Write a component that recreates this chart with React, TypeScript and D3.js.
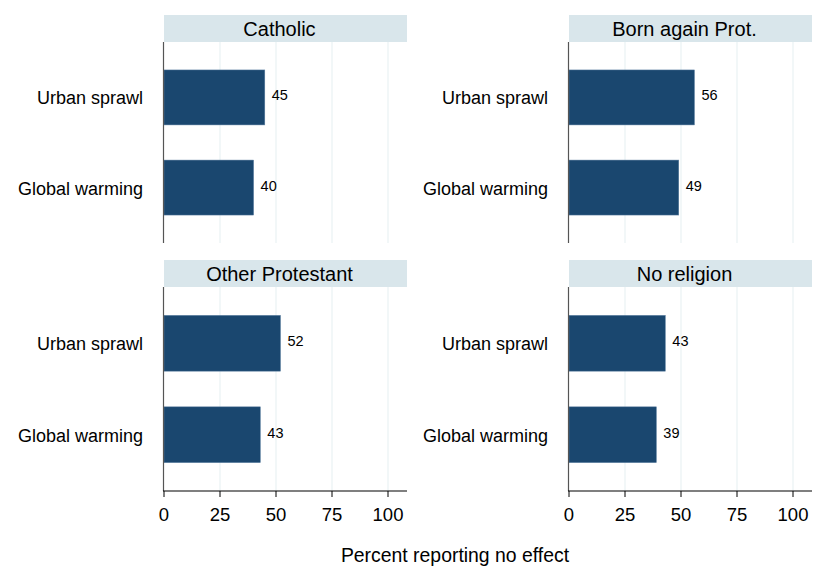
import React from "react";
import * as d3 from "d3";

const groups = ["Catholic", "Born again Prot.", "Other Protestant", "No religion"];
const categories = ["Urban sprawl", "Global warming"];
const urbanSprawl = [45, 56, 52, 43];
const globalWarming = [40, 49, 43, 39];
const xTicks = [0, 25, 50, 75, 100];
const xTitle = "Percent reporting no effect";

const W = 820, H = 566;
const panelX = [164, 569];
const panelW = 243;
const stripTop = [15, 260];
const stripH = 27;
const plotH = [201, 204];
const barColor = "#1a476f";
const stripColor = "#d9e6eb";
const gridColor = "#eaf2f3";
const font = "Liberation Sans, Arial, sans-serif";

export default function App() {
  const series = [urbanSprawl, globalWarming];
  return (
    <svg width={W} height={H} style={{ position: "absolute", left: 0, top: 0, background: "#fff" }} fontFamily={font}>
      <rect width={W} height={H} fill="#fff" />
      {groups.map((g, i) => {
        const col = i % 2, row = Math.floor(i / 2);
        const x0 = panelX[col];
        const sTop = stripTop[row];
        const pTop = sTop + stripH;
        const pH = plotH[row];
        const pBot = pTop + pH;
        const x = d3.scaleLinear().domain([0, 100]).range([x0, x0 + 224]);
        const y = d3.scaleBand().domain(categories).range([pTop, pBot]).paddingInner(0.39).paddingOuter(0.31);
        const isBottom = row === 1;
        return (
          <g key={g}>
            <rect x={x0} y={sTop} width={panelW} height={stripH} fill={stripColor} />
            <text x={x0 + panelW / 2 - 6} y={sTop + stripH / 2 + 7} textAnchor="middle" fontSize={20} fill="#000">{g}</text>
            {xTicks.filter(t => t > 0).map(t => (
              <line key={t} x1={x(t)} x2={x(t)} y1={pTop} y2={pBot} stroke={gridColor} strokeWidth={1.2} />
            ))}
            {categories.map((c, k) => {
              const v = series[k][i];
              const by = y(c)!;
              return (
                <g key={c}>
                  <rect x={x(0)} y={by} width={x(v) - x(0)} height={y.bandwidth()} fill={barColor} stroke="#5b7ea0" strokeWidth={0.5} />
                  <text x={x(v) + 7} y={by + y.bandwidth() / 2 + 3} fontSize={14.5} fill="#000">{v}</text>
                  <text x={x0 - 21} y={by + y.bandwidth() / 2 + 7} textAnchor="end" fontSize={18} fill="#000">{c}</text>
                </g>
              );
            })}
            <line x1={x0 - 0.5} x2={x0 - 0.5} y1={pTop} y2={pBot} stroke="#555" strokeWidth={1.2} />
            {isBottom && (
              <g>
                <line x1={x0 - 1} x2={x0 + panelW} y1={pBot} y2={pBot} stroke="#000" strokeWidth={1.2} />
                {xTicks.map(t => (
                  <g key={t}>
                    <line x1={x(t)} x2={x(t)} y1={pBot} y2={pBot + 6} stroke="#000" strokeWidth={1} />
                    <text x={x(t)} y={pBot + 30} textAnchor="middle" fontSize={18.5} fill="#000">{t}</text>
                  </g>
                ))}
              </g>
            )}
          </g>
        );
      })}
      <text x={455} y={562} textAnchor="middle" fontSize={19.4} fill="#000">{xTitle}</text>
    </svg>
  );
}
